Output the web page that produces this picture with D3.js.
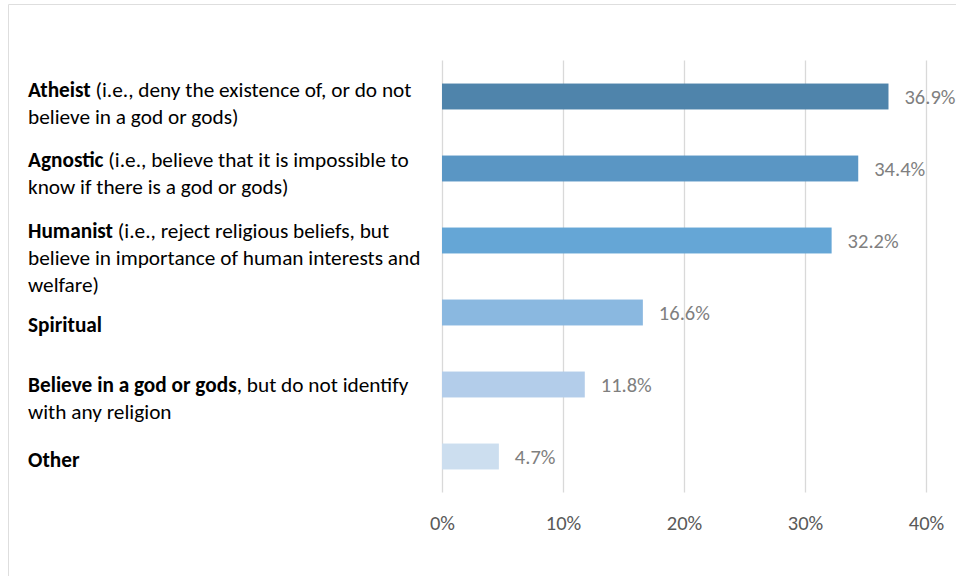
<!DOCTYPE html>
<html>
<head>
<meta charset="utf-8">
<script src="https://cdn.jsdelivr.net/npm/d3@7"></script>
<style>
  html, body { margin: 0; padding: 0; background: #fff; overflow: hidden; }
  svg { display: block; font-family: Carlito, Calibri, Lato, "Open Sans", sans-serif; }
</style>
</head>
<body>
<svg id="chart" width="956" height="576"></svg>
<script>
// Identity groups (bold lead words) and their descriptions, one entry per bar
const categories = [
  "Atheist",
  "Agnostic",
  "Humanist",
  "Spiritual",
  "Believe in a god or gods",
  "Other"
];
const descriptions = [
  [" (i.e., deny the existence of, or do not", "believe in a god or gods)"],
  [" (i.e., believe that it is impossible to", "know if there is a god or gods)"],
  [" (i.e., reject religious beliefs, but", "believe in importance of human interests and", "welfare)"],
  [""],
  [", but do not identify", "with any religion"],
  [""]
];
// Share of respondents, percent
const values = [36.9, 34.4, 32.2, 16.6, 11.8, 4.7];
const tickValues = [0, 10, 20, 30, 40];
const barColors = ["#4f84ab", "#5a96c4", "#65a6d6", "#8ab8e0", "#b3cdea", "#ccdeef"];

// Layout
const W = 956, H = 576;
const plot = { left: 442, right: 926, top: 60.5, bottom: 492.5 };
const labelX = 28;
const lineGap = 27;
// vertical nudge of each category label block relative to its bar
const labelShift = [-6, -8, -9, 13, 1, 4];

const svg = d3.select("#chart");

// outer frame
svg.append("path")
  .attr("d", `M8.5,${H + 2} V4.5 H${W + 2}`)
  .attr("fill", "none")
  .attr("stroke", "#dedede")
  .attr("stroke-width", 1);

const x = d3.scaleLinear().domain([0, 40]).range([plot.left, plot.right]);
const y = d3.scaleBand()
  .domain(categories)
  .range([plot.top, plot.bottom])
  .paddingInner(0.64)
  .paddingOuter(0.32);

// vertical gridlines
svg.append("g")
  .selectAll("line")
  .data(tickValues)
  .join("line")
  .attr("x1", d => Math.round(x(d)) + 0.5)
  .attr("x2", d => Math.round(x(d)) + 0.5)
  .attr("y1", plot.top)
  .attr("y2", plot.bottom)
  .attr("stroke", "#d9d9d9")
  .attr("stroke-width", 1.3);

// x axis tick labels
const xAxis = d3.axisBottom(x)
  .tickValues(tickValues)
  .tickSize(0)
  .tickPadding(0)
  .tickFormat(d => d + "%");
const gx = svg.append("g")
  .attr("transform", `translate(0,${plot.bottom + 30})`)
  .call(xAxis);
gx.select(".domain").remove();
gx.selectAll("text")
  .attr("dy", "0.36em")
  .attr("fill", "#595959")
  .attr("font-size", 20.5)
  .attr("font-family", "Carlito, Calibri, Lato, sans-serif");

// bars
svg.append("g")
  .selectAll("rect")
  .data(values)
  .join("rect")
  .attr("x", x(0))
  .attr("y", (d, i) => y(categories[i]))
  .attr("width", d => x(d) - x(0))
  .attr("height", y.bandwidth())
  .attr("fill", (d, i) => barColors[i]);

// value labels
svg.append("g")
  .selectAll("text")
  .data(values)
  .join("text")
  .attr("x", d => x(d) + 16)
  .attr("y", (d, i) => y(categories[i]) + y.bandwidth() / 2)
  .attr("dy", "0.36em")
  .attr("fill", "#7f7f7f")
  .attr("font-size", 20.5)
  .text(d => d.toFixed(1) + "%");

// category labels (bold lead + regular description, wrapped lines)
const labels = svg.append("g").attr("fill", "#000").attr("font-size", 21.3);
categories.forEach((cat, i) => {
  const top = y(cat) + y.bandwidth() / 2 + labelShift[i] + 6;
  const lines = descriptions[i];
  lines.forEach((ln, j) => {
    const t = labels.append("text")
      .attr("x", labelX)
      .attr("y", top + j * lineGap);
    if (j === 0) {
      t.append("tspan").attr("font-weight", "bold").text(cat);
    }
    if (ln) t.append("tspan").text(ln);
  });
});
</script>
</body>
</html>
